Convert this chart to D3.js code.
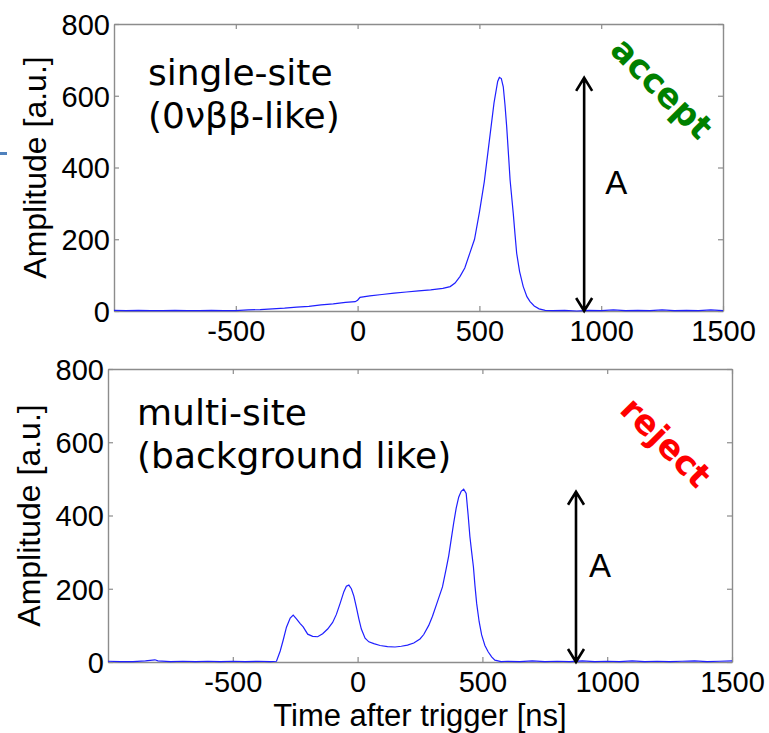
<!DOCTYPE html>
<html>
<head>
<meta charset="utf-8">
<script src="https://cdn.jsdelivr.net/npm/d3@7"></script>
<style>
  html, body { margin: 0; padding: 0; background: #fff; }
  svg { display: block; }
</style>
</head>
<body>
<svg id="fig" width="769" height="733"></svg>
<script>
// ---- data: detector pulse waveforms (time in ns, amplitude in a.u.) ----
const timeSingle = [-1000, -950, -900, -850, -800, -750, -700, -650, -600, -550, -500, -450, -400, -350, -300,
  -250, -200, -150, -100, -50, -10, 0, 10, 50, 100, 150, 200, 250, 300, 350, 380, 400, 420, 440, 460, 480,
  500, 520, 540, 560, 575, 582, 590, 598, 605, 612, 620, 626, 633, 639, 646, 653, 665, 680, 695, 708, 725,
  745, 770, 800, 850, 900, 950, 1000, 1050, 1100, 1150, 1200, 1250, 1300, 1350, 1400, 1450, 1500];
const ampSingle = [2, 1, 2, 1, 1, 2, 1, 1, 2, 1, 1, 3, 4, 6, 8,
  11, 13, 17, 20, 24, 26, 30, 38, 42, 46, 50, 53, 56, 59, 63, 68, 78, 96, 120, 160, 200,
  275, 360, 470, 580, 640, 651, 648, 625, 575, 514, 430, 365, 315, 272, 215, 161, 110, 68, 40, 26, 14,
  6, 2, 1, 2, 0, 2, 1, 3, 1, 2, 1, 3, 1, 2, 1, 3, 1];

const timeMulti = [-1000, -950, -900, -850, -812, -800, -750, -700, -650, -600, -550, -500, -450, -400, -350,
  -325, -310, -298, -285, -270, -258, -245, -230, -218, -200, -180, -160, -140, -120, -100, -85, -70, -55,
  -45, -35, -25, -15, -5, 5, 15, 30, 45, 65, 90, 120, 150, 175, 200, 225, 250, 265, 285, 300, 320, 340,
  355, 365, 375, 385, 395, 405, 415, 425, 435, 443, 450, 457, 464, 470, 477, 487, 497, 510, 523, 537, 550,
  575, 600, 650, 700, 750, 800, 850, 900, 950, 1000, 1050, 1100, 1150, 1200, 1250, 1300, 1350, 1400, 1450, 1500];
const ampMulti = [2, 1, 1, 3, 6, 3, 1, 2, 1, 2, 1, 2, 1, 2, 1,
  2, 30, 60, 95, 120, 128, 118, 105, 96, 76, 70, 69, 77, 90, 108, 130, 160, 192,
  207, 210, 200, 180, 150, 118, 90, 65, 55, 50, 45, 42, 41, 43, 46, 52, 63, 75, 100, 125, 165, 205,
  255, 290, 335, 380, 420, 450, 466, 472, 460, 400, 342, 300, 260, 210, 160, 110, 74, 45, 28, 14, 5,
  1, 2, 1, 3, 1, 2, 1, 3, 1, 2, 1, 3, 1, 2, 1, 2, 3, 1, 2, 3];

const xTicks = [-500, 0, 500, 1000, 1500];
const yTicks = [0, 200, 400, 600, 800];
const xDomain = [-1000, 1500];
const yDomain = [0, 800];

// pulse height marker (time position, height) for each panel
const arrowTimes = [930, 875];
const arrowHeights = [650, 465];

const captionLines = [["single-site", "(0νββ-like)"], ["multi-site", "(background like)"]];
const verdicts = ["accept", "reject"];
const verdictColors = ["#008000", "#ff0000"];

// ---- layout ----
const svg = d3.select("#fig");
const tickFont = "'Liberation Sans', Arial, Helvetica, sans-serif";
const textFont = "'DejaVu Sans', Verdana, sans-serif";
const axisGrey = "#8c8c8c";
const plainNumber = d => String(d);   // ASCII hyphen for negatives

const panels = [
  { left: 114, right: 723, top: 24, bottom: 311, t: timeSingle, a: ampSingle,
    ylabX: 46, capX: 148, capY: 85, aDx: 21, verdictXY: [662, 88] },
  { left: 108, right: 732, top: 369, bottom: 662, t: timeMulti, a: ampMulti,
    ylabX: 40, capX: 137, capY: 425, aDx: 13, verdictXY: [666, 442] }
];

// small slide accent at the left edge
svg.append("rect").attr("x", 0).attr("y", 152).attr("width", 7).attr("height", 3).attr("fill", "#4f81bd");

panels.forEach((p, i) => {
  const x = d3.scaleLinear().domain(xDomain).range([p.left, p.right]);
  const y = d3.scaleLinear().domain(yDomain).range([p.bottom, p.top]);
  const g = svg.append("g");

  // axes box with inward ticks on all four sides
  const styleAxis = sel => {
    sel.select(".domain").attr("stroke", axisGrey).attr("stroke-width", 1.4);
    sel.selectAll(".tick line").attr("stroke", axisGrey).attr("stroke-width", 1.2);
    sel.selectAll(".tick text").attr("fill", "#000").attr("font-family", tickFont).attr("font-size", 29);
  };
  g.append("g").attr("transform", `translate(0,${p.bottom})`)
    .call(d3.axisBottom(x).tickValues(xTicks).tickSizeInner(-5).tickSizeOuter(0).tickPadding(0).tickFormat(plainNumber))
    .call(styleAxis)
    .call(s => s.selectAll(".tick text").attr("dy", null).attr("y", 30));
  g.append("g").attr("transform", `translate(0,${p.top})`)
    .call(d3.axisTop(x).tickValues(xTicks).tickSizeInner(-5).tickSizeOuter(0).tickFormat(""))
    .call(styleAxis);
  g.append("g").attr("transform", `translate(${p.left},0)`)
    .call(d3.axisLeft(y).tickValues(yTicks).tickSizeInner(-5).tickSizeOuter(0).tickPadding(0).tickFormat(plainNumber))
    .call(styleAxis)
    .call(s => s.selectAll(".tick text").attr("x", -4).attr("dy", "0.36em"));
  g.append("g").attr("transform", `translate(${p.right},0)`)
    .call(d3.axisRight(y).tickValues(yTicks).tickSizeInner(-5).tickSizeOuter(0).tickFormat(""))
    .call(styleAxis);

  // waveform
  const pts = p.t.map((t, k) => [t, p.a[k]]);
  g.append("path")
    .datum(pts)
    .attr("fill", "none")
    .attr("stroke", "#1f1fff")
    .attr("stroke-width", 1.2)
    .attr("d", d3.line().x(d => x(d[0])).y(d => y(d[1])));

  // y-axis title
  g.append("text")
    .attr("transform", `translate(${p.ylabX},${(p.top + p.bottom) / 2}) rotate(-90)`)
    .attr("text-anchor", "middle")
    .attr("font-family", tickFont).attr("font-size", 32).attr("fill", "#000")
    .text("Amplitude [a.u.]");

  // caption
  const cap = g.append("text")
    .attr("font-family", textFont).attr("font-size", 36).attr("fill", "#000");
  captionLines[i].forEach((line, k) => {
    cap.append("tspan").attr("x", p.capX).attr("y", p.capY + k * 43).text(line);
  });

  // double-headed pulse height arrow
  const ax = x(arrowTimes[i]);
  const yt = y(arrowHeights[i]);
  const yb = y(0);
  const hw = 8, hh = 13;
  g.append("path")
    .attr("fill", "none").attr("stroke", "#000").attr("stroke-width", 2.6)
    .attr("stroke-linejoin", "miter")
    .attr("d", `M${ax - hw},${yt + hh}L${ax},${yt}L${ax + hw},${yt + hh}M${ax},${yt}L${ax},${yb}` +
               `M${ax - hw},${yb - hh}L${ax},${yb}L${ax + hw},${yb - hh}`);
  g.append("text")
    .attr("x", ax + p.aDx).attr("y", y(arrowHeights[i] / 2))
    .attr("font-family", tickFont).attr("font-size", 33).attr("fill", "#000")
    .text("A");

  // verdict stamp
  g.append("text")
    .attr("transform", `translate(${p.verdictXY[0]},${p.verdictXY[1]}) rotate(45)`)
    .attr("text-anchor", "middle").attr("dominant-baseline", "central")
    .attr("font-family", textFont).attr("font-weight", "bold").attr("font-size", 34)
    .attr("fill", verdictColors[i])
    .text(verdicts[i]);
});

// shared x-axis title
svg.append("text")
  .attr("x", 420).attr("y", 726)
  .attr("text-anchor", "middle")
  .attr("font-family", tickFont).attr("font-size", 31).attr("fill", "#000")
  .text("Time after trigger [ns]");
</script>
</body>
</html>
